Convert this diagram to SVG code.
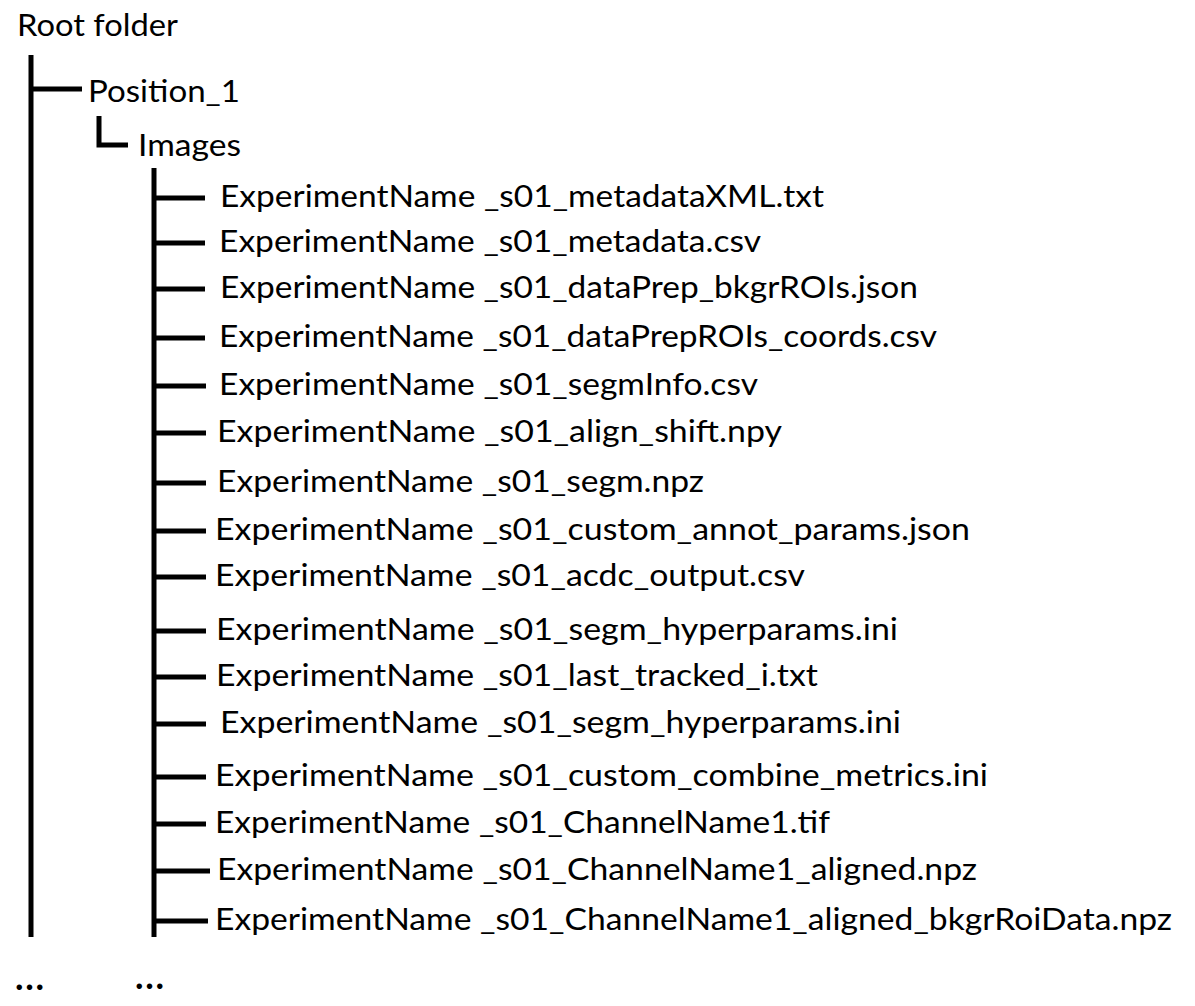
<svg xmlns="http://www.w3.org/2000/svg" width="1195" height="1006" viewBox="0 0 1195 1006">
  <style>
    .t { font-family: Lato, "Open Sans", "Liberation Sans", sans-serif; font-size: 31px; fill: #000; }
    .dots { font-family: Lato, "Liberation Sans", sans-serif; font-size: 36px; font-weight: bold; fill: #000; }
    .ln { stroke: #000; stroke-width: 5; fill: none; stroke-linecap: butt; stroke-linejoin: miter; }
  </style>
  <rect width="1195" height="1006" fill="#fff"/>
  <g id="connectors">
    <line class="ln" x1="31" y1="55" x2="31" y2="937"/>
    <line class="ln" x1="31" y1="89" x2="82" y2="89"/>
    <polyline class="ln" points="99,116 99,145 128,145"/>
    <line class="ln" x1="154" y1="168" x2="154" y2="937"/>
    <line class="ln" x1="154" y1="198" x2="205" y2="198"/>
    <line class="ln" x1="154" y1="243" x2="205" y2="243"/>
    <line class="ln" x1="154" y1="289" x2="205" y2="289"/>
    <line class="ln" x1="154" y1="338" x2="205" y2="338"/>
    <line class="ln" x1="154" y1="386" x2="206" y2="386"/>
    <line class="ln" x1="154" y1="433" x2="206" y2="433"/>
    <line class="ln" x1="154" y1="483" x2="206" y2="483"/>
    <line class="ln" x1="154" y1="531" x2="206" y2="531"/>
    <line class="ln" x1="154" y1="577" x2="206" y2="577"/>
    <line class="ln" x1="154" y1="631" x2="206" y2="631"/>
    <line class="ln" x1="154" y1="677" x2="206" y2="677"/>
    <line class="ln" x1="154" y1="724" x2="206" y2="724"/>
    <line class="ln" x1="154" y1="777" x2="206" y2="777"/>
    <line class="ln" x1="154" y1="824" x2="206" y2="824"/>
    <line class="ln" x1="154" y1="871" x2="210" y2="871"/>
    <line class="ln" x1="154" y1="921" x2="208" y2="921"/>
  </g>
  <g id="root"><text class="t" x="17" y="36" textLength="161" lengthAdjust="spacingAndGlyphs">Root folder</text></g>
  <g id="position1"><text class="t" x="88" y="102" textLength="152" lengthAdjust="spacingAndGlyphs">Position_1</text></g>
  <g id="images"><text class="t" x="138" y="156" textLength="103" lengthAdjust="spacingAndGlyphs">Images</text></g>
  <g id="f1"><text class="t" x="220" y="207" textLength="604" lengthAdjust="spacingAndGlyphs">ExperimentName _s01_metadataXML.txt</text></g>
  <g id="f2"><text class="t" x="219" y="252" textLength="542" lengthAdjust="spacingAndGlyphs">ExperimentName _s01_metadata.csv</text></g>
  <g id="f3"><text class="t" x="220" y="298" textLength="698" lengthAdjust="spacingAndGlyphs">ExperimentName _s01_dataPrep_bkgrROIs.json</text></g>
  <g id="f4"><text class="t" x="219" y="347" textLength="718" lengthAdjust="spacingAndGlyphs">ExperimentName _s01_dataPrepROIs_coords.csv</text></g>
  <g id="f5"><text class="t" x="219" y="395" textLength="539" lengthAdjust="spacingAndGlyphs">ExperimentName _s01_segmInfo.csv</text></g>
  <g id="f6"><text class="t" x="217" y="442" textLength="565" lengthAdjust="spacingAndGlyphs">ExperimentName _s01_align_shift.npy</text></g>
  <g id="f7"><text class="t" x="217" y="492" textLength="487" lengthAdjust="spacingAndGlyphs">ExperimentName _s01_segm.npz</text></g>
  <g id="f8"><text class="t" x="215" y="540" textLength="755" lengthAdjust="spacingAndGlyphs">ExperimentName _s01_custom_annot_params.json</text></g>
  <g id="f9"><text class="t" x="215" y="586" textLength="590" lengthAdjust="spacingAndGlyphs">ExperimentName _s01_acdc_output.csv</text></g>
  <g id="f10"><text class="t" x="216" y="640" textLength="682" lengthAdjust="spacingAndGlyphs">ExperimentName _s01_segm_hyperparams.ini</text></g>
  <g id="f11"><text class="t" x="216" y="686" textLength="602" lengthAdjust="spacingAndGlyphs">ExperimentName _s01_last_tracked_i.txt</text></g>
  <g id="f12"><text class="t" x="220" y="733" textLength="681" lengthAdjust="spacingAndGlyphs">ExperimentName _s01_segm_hyperparams.ini</text></g>
  <g id="f13"><text class="t" x="215" y="786" textLength="773" lengthAdjust="spacingAndGlyphs">ExperimentName _s01_custom_combine_metrics.ini</text></g>
  <g id="f14"><text class="t" x="215" y="833" textLength="615" lengthAdjust="spacingAndGlyphs">ExperimentName _s01_ChannelName1.tif</text></g>
  <g id="f15"><text class="t" x="217" y="880" textLength="760" lengthAdjust="spacingAndGlyphs">ExperimentName _s01_ChannelName1_aligned.npz</text></g>
  <g id="f16"><text class="t" x="215" y="930" textLength="957" lengthAdjust="spacingAndGlyphs">ExperimentName _s01_ChannelName1_aligned_bkgrRoiData.npz</text></g>
  <g id="more1"><text class="dots" x="15" y="990" textLength="29" lengthAdjust="spacing">...</text></g>
  <g id="more2"><text class="dots" x="135" y="989" textLength="29" lengthAdjust="spacing">...</text></g>
</svg>
